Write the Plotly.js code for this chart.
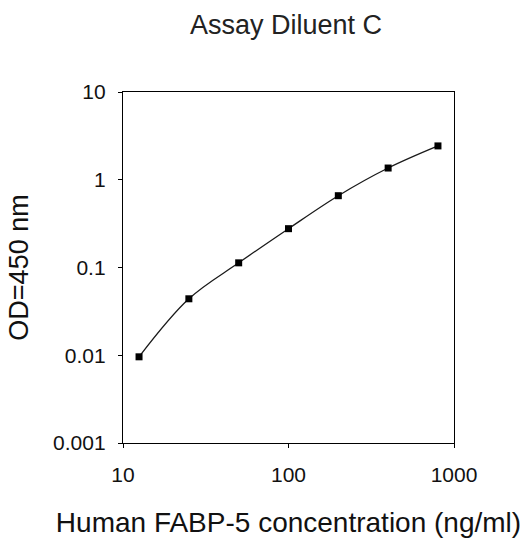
<!DOCTYPE html>
<html>
<head>
<meta charset="utf-8">
<script src="https://cdn.plot.ly/plotly-3.0.1.min.js"></script>
<style>html,body{margin:0;padding:0;background:#fff;}#chart{width:528px;height:552px;}</style>
</head>
<body>
<div id="chart"></div>
<script>
var concentration = [12.5, 25, 50, 100, 200, 400, 800];
var od450 = [0.0096, 0.044, 0.113, 0.277, 0.658, 1.36, 2.43];
var xTickVals = [10, 100, 1000];
var xTickText = ['10', '100', '1000'];
var yTickVals = [0.001, 0.01, 0.1, 1, 10];
var yTickText = ['0.001', '0.01', '0.1', '1', '10'];

var font = 'Liberation Sans, Arial, sans-serif';
var trace = {
  x: concentration,
  y: od450,
  mode: 'lines+markers',
  type: 'scatter',
  line: {color: '#1a1a1a', width: 1.3, shape: 'spline'},
  marker: {color: '#000', size: 7, symbol: 'square'},
  showlegend: false
};
var layout = {
  width: 528, height: 552,
  margin: {l: 123, r: 74, t: 92, b: 109},
  paper_bgcolor: '#fff', plot_bgcolor: '#fff',
  font: {family: font, color: '#111', size: 20},
  title: {text: 'Assay Diluent C', x: 286 / 528, xanchor: 'center', y: 1 - 25 / 552, yanchor: 'middle', font: {family: font, size: 27, color: '#222'}},
  xaxis: {
    type: 'log', range: [1, 3],
    tickvals: xTickVals, ticktext: xTickText,
    ticks: 'outside', ticklen: 4, tickcolor: '#000', tickwidth: 1,
    ticklabelstandoff: 9,
    showline: true, linecolor: '#000', linewidth: 1.2, mirror: true,
    showgrid: false, zeroline: false,
    tickfont: {family: font, size: 21, color: '#111'},
    title: {text: 'Human FABP-5 concentration (ng/ml)', standoff: 27, font: {family: font, size: 28, color: '#111'}}
  },
  yaxis: {
    type: 'log', range: [-3, 1],
    tickvals: yTickVals, ticktext: yTickText,
    ticks: 'outside', ticklen: 4, tickcolor: '#000', tickwidth: 1,
    ticklabelstandoff: 8,
    showline: true, linecolor: '#000', linewidth: 1.2, mirror: true,
    showgrid: false, zeroline: false,
    tickfont: {family: font, size: 21, color: '#111'},
    title: {text: 'OD=450 nm', standoff: 16, font: {family: font, size: 27, color: '#111'}}
  }
};
Plotly.newPlot('chart', [trace], layout, {displayModeBar: false, staticPlot: true});
</script>
</body>
</html>
